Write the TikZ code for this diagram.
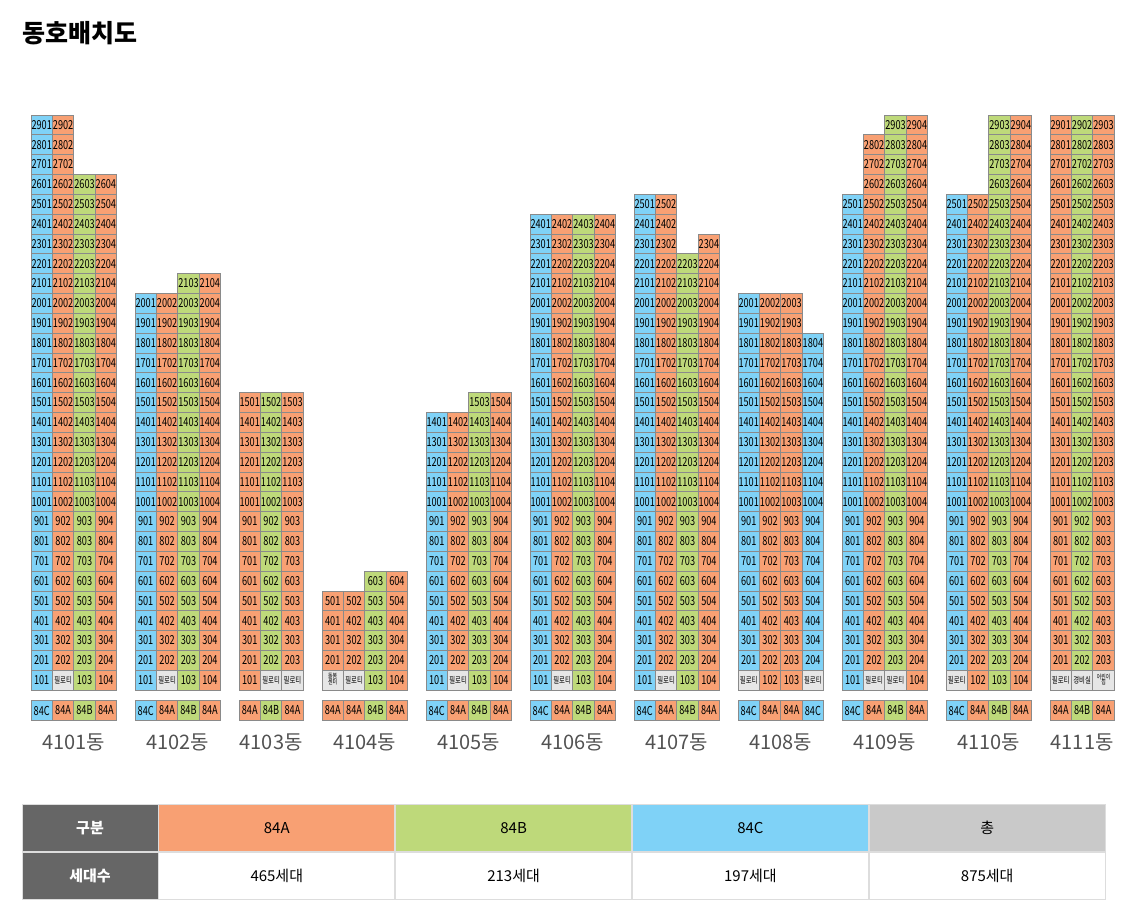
\documentclass[tikz,border=0pt]{standalone}
\usepackage{fontspec}
\setmainfont{Noto Sans CJK KR}
\newfontfamily\cellfont[FakeStretch=0.74]{Noto Sans CJK KR}
\usepackage{xcolor}
\usetikzlibrary{positioning}

\definecolor{typeA}{HTML}{F8A073}
\definecolor{typeB}{HTML}{BED97A}
\definecolor{typeC}{HTML}{7FD2F7}
\definecolor{pilotis}{HTML}{E6E6E6}
\definecolor{totalgray}{HTML}{C9C9C9}
\definecolor{headgray}{HTML}{666666}
\definecolor{linegray}{HTML}{8A8A8A}
\definecolor{tablegray}{HTML}{DDDDDD}

% small two-line text for the ground-floor cells
\newcommand\twoline[2]{{\fontsize{6.6}{6.6}\selectfont\begin{tabular}{@{}c@{}}#1\\[-1.8pt]#2\end{tabular}}}

\begin{document}
\begin{tikzpicture}[
    x=1pt, y=-1pt,
    unit/.style={rectangle, draw=linegray, line width=0.7pt,
                 minimum width=21.4pt, minimum height=19.83pt,
                 inner sep=0pt, font=\cellfont\fontsize{12.4}{12}\selectfont},
    ground/.style={unit, fill=pilotis, align=center,
                   font=\cellfont\fontsize{8.6}{8}\selectfont},
    bldlabel/.style={font=\fontsize{20}{20}\selectfont, text=black!68},
    head/.style={rectangle, draw=tablegray, line width=0.8pt, minimum height=47pt,
                 inner sep=0pt, font=\fontsize{15}{15}\selectfont},
    side/.style={head, fill=headgray, text=white, minimum width=136pt,
                 font=\bfseries\fontsize{15}{15}\selectfont}
]
    \useasboundingbox (0,0) rectangle (1121,912);

    \node[anchor=west, font=\bfseries\fontsize{25}{25}\selectfont] (title) at (19,33) {동호배치도};

    % buildings: left x / name / columns / {type/top floor/ground}
    \foreach \bx/\bname/\bn/\cols in {
        31/4101/4/{C/29/u,A/29/필로티,B/26/u,A/26/u},
        135/4102/4/{C/20/u,A/20/필로티,B/21/u,A/21/u},
        239/4103/3/{A/15/u,B/15/필로티,A/15/필로티},
        322/4104/4/{A/5/{\twoline{돌봄}{센터}},A/5/필로티,B/6/u,A/6/u},
        426/4105/4/{C/14/u,A/14/필로티,B/15/u,A/15/u},
        530/4106/4/{C/24/u,A/24/필로티,B/24/u,A/24/u},
        634/4107/4/{C/25/u,A/25/필로티,B/22/u,A/23/u},
        738/4108/4/{C/20/필로티,A/20/u,A/20/u,C/18/필로티},
        842/4109/4/{C/25/u,A/28/필로티,B/29/필로티,A/29/u},
        946/4110/4/{C/25/필로티,A/25/u,B/29/u,A/29/u},
        1050/4111/3/{A/29/필로티,B/29/경비실,A/29/{\twoline{어린이}{집}}}}{
        \foreach \t/\top/\g [count=\c] in \cols {
            \def\tmpu{u}
            \ifx\g\tmpu
                \node[unit, fill=type\t] (b\bname-\c-1) at ({\bx+(\c-0.5)*21.4}, {690-0.5*19.83}) {10\c};
            \else
                \node[ground] (b\bname-\c-1) at ({\bx+(\c-0.5)*21.4}, {690-0.5*19.83}) {\g};
            \fi
            \foreach \f in {2,...,\top}
                \node[unit, fill=type\t] (b\bname-\c-\f) at ({\bx+(\c-0.5)*21.4}, {690-(\f-0.5)*19.83}) {\f0\c};
            \node[unit, fill=type\t] (k\bname-\c) at ({\bx+(\c-0.5)*21.4}, 710.5) {84\t};
        }
        \node[bldlabel] (l\bname) at ({\bx+\bn*10.7}, 742) {\bname{}동};
    }

    % summary table
    \node[side] (hdr) at (90,828) {구분};
    \node[side] (cnt) at (90,875.5) {세대수};
    \node[head, minimum width=236pt, fill=typeA, right=0pt of hdr] (hA) {84A};
    \node[head, minimum width=236pt, fill=typeB, right=0pt of hA] (hB) {84B};
    \node[head, minimum width=236pt, fill=typeC, right=0pt of hB] (hC) {84C};
    \node[head, minimum width=236pt, fill=totalgray, right=0pt of hC] (hT) {총};
    \node[head, minimum width=236pt, right=0pt of cnt] (nA) {465세대};
    \node[head, minimum width=236pt, right=0pt of nA] (nB) {213세대};
    \node[head, minimum width=236pt, right=0pt of nB] (nC) {197세대};
    \node[head, minimum width=236pt, right=0pt of nC] (nT) {875세대};
\end{tikzpicture}
\end{document}
